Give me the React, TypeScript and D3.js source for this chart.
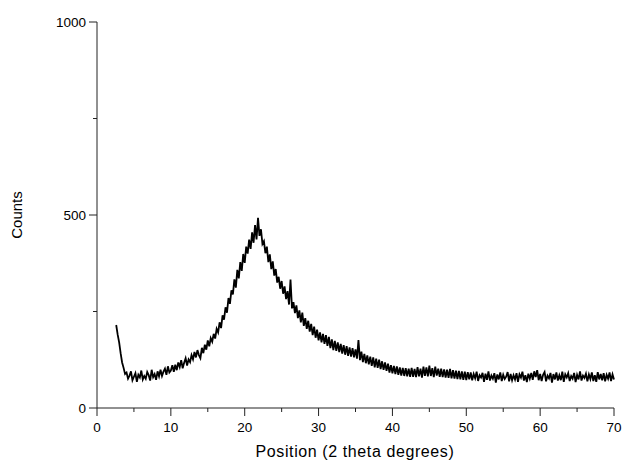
import React from "react";
import * as d3 from "d3";

const TWO_THETA_START = 2.6;
const TWO_THETA_STEP = 0.2;

// Counts, one row = 2 degrees (10 samples)
const counts: number[] = [
  215, 190, 170, 142, 118, 104, 88, 92, 76, 84,
  95, 72, 81, 90, 68, 86, 79, 97, 74, 83,
  76, 93, 85, 71, 99, 80, 88, 73, 95, 82,
  99, 83, 94, 102, 86, 108, 92, 97, 111, 94,
  112, 98, 118, 106, 124, 103, 117, 129, 110, 126,
  119, 137, 126, 145, 131, 150, 137, 129, 156, 142,
  164, 151, 175, 160, 181, 172, 192, 180, 205, 196,
  222, 207, 240, 229, 261, 247, 285, 270, 305, 294,
  333, 312, 358, 336, 378, 355, 399, 376, 418, 400,
  436, 412, 455, 428, 474, 437, 493, 446, 463, 425,
  432, 401, 418, 378, 398, 360, 380, 343, 360, 325,
  340, 309, 329, 296, 315, 282, 303, 268, 333, 258,
  274, 246, 266, 233, 253, 222, 247, 213, 233, 205,
  226, 198, 218, 189, 211, 182, 203, 175, 196, 170,
  192, 166, 189, 161, 184, 155, 178, 150, 174, 148,
  170, 145, 166, 141, 163, 138, 160, 135, 157, 133,
  155, 131, 152, 128, 176, 124, 146, 119, 140, 116,
  136, 113, 133, 109, 131, 105, 128, 104, 125, 101,
  121, 99, 118, 96, 115, 92, 111, 90, 109, 88,
  108, 86, 105, 84, 104, 83, 103, 82, 102, 81,
  104, 81, 101, 80, 106, 82, 102, 79, 107, 83,
  105, 82, 110, 83, 103, 80, 107, 84, 102, 81,
  102, 80, 100, 79, 99, 78, 101, 77, 98, 76,
  97, 75, 96, 74, 95, 73, 94, 72, 93, 74,
  92, 72, 88, 77, 94, 70, 85, 79, 91, 68,
  89, 73, 95, 71, 84, 76, 90, 66, 87, 74,
  92, 70, 86, 75, 81, 93, 69, 88, 72, 85,
  74, 90, 68, 87, 79, 94, 71, 85, 67, 89,
  76, 91, 73, 95, 80, 98, 72, 88, 70, 86,
  93, 69, 84, 77, 91, 66, 88, 74, 92, 71,
  85, 72, 94, 68, 87, 79, 90, 70, 83, 76,
  91, 67, 86, 74, 95, 71, 84, 78, 89, 69,
  87, 75, 92, 70, 85, 68, 93, 74, 88, 72,
  90, 69, 86, 76, 92, 70, 87, 74,
];

const xTicks = [0, 10, 20, 30, 40, 50, 60, 70];
const xMinorTicks = [5, 15, 25, 35, 45, 55, 65];
const yTicks = [0, 500, 1000];
const yMinorTicks = [250, 750];

const X_LABEL = "Position (2 theta degrees)";
const Y_LABEL = "Counts";

export default function App() {
  const W = 624, H = 464;
  const left = 97, right = 614, top = 22, bottom = 408;
  const x = d3.scaleLinear().domain([0, 70]).range([left, right]);
  const y = d3.scaleLinear().domain([0, 1000]).range([bottom, top]);
  const data = counts.map((c, i) => [TWO_THETA_START + i * TWO_THETA_STEP, c] as [number, number]);
  const line = d3.line<[number, number]>().x(d => x(d[0])).y(d => y(d[1]));
  const font = "Arial, 'Liberation Sans', sans-serif";
  const axisColor = "#222";
  return (
    <svg width={W} height={H} style={{ position: "absolute", left: 0, top: 0, background: "#fff" }} fontFamily={font}>
      <path d={line(data) || ""} fill="none" stroke="#000" strokeWidth={1.8} strokeLinejoin="miter" />
      <line x1={left} x2={left} y1={top} y2={bottom} stroke={axisColor} strokeWidth={1} />
      <line x1={left} x2={right} y1={bottom} y2={bottom} stroke={axisColor} strokeWidth={1} />
      {xTicks.map(t => (
        <g key={"xt" + t}>
          <line x1={x(t)} x2={x(t)} y1={bottom} y2={bottom + 8} stroke={axisColor} />
          <text x={x(t)} y={bottom + 24} textAnchor="middle" fontSize={13.5} fill="#000">{t}</text>
        </g>
      ))}
      {xMinorTicks.map(t => (
        <line key={"xm" + t} x1={x(t)} x2={x(t)} y1={bottom} y2={bottom + 4} stroke={axisColor} />
      ))}
      {yTicks.map(t => (
        <g key={"yt" + t}>
          <line x1={left - 8} x2={left} y1={y(t)} y2={y(t)} stroke={axisColor} />
          <text x={left - 11} y={y(t) + 4.5} textAnchor="end" fontSize={13.5} fill="#000">{t}</text>
        </g>
      ))}
      {yMinorTicks.map(t => (
        <line key={"ym" + t} x1={left - 4} x2={left} y1={y(t)} y2={y(t)} stroke={axisColor} />
      ))}
      <text x={355} y={457} textAnchor="middle" fontSize={16} letterSpacing={0.6} fill="#000">{X_LABEL}</text>
      <text transform={`translate(22,${(top + bottom) / 2}) rotate(-90)`} textAnchor="middle" fontSize={15} fill="#000">{Y_LABEL}</text>
    </svg>
  );
}
